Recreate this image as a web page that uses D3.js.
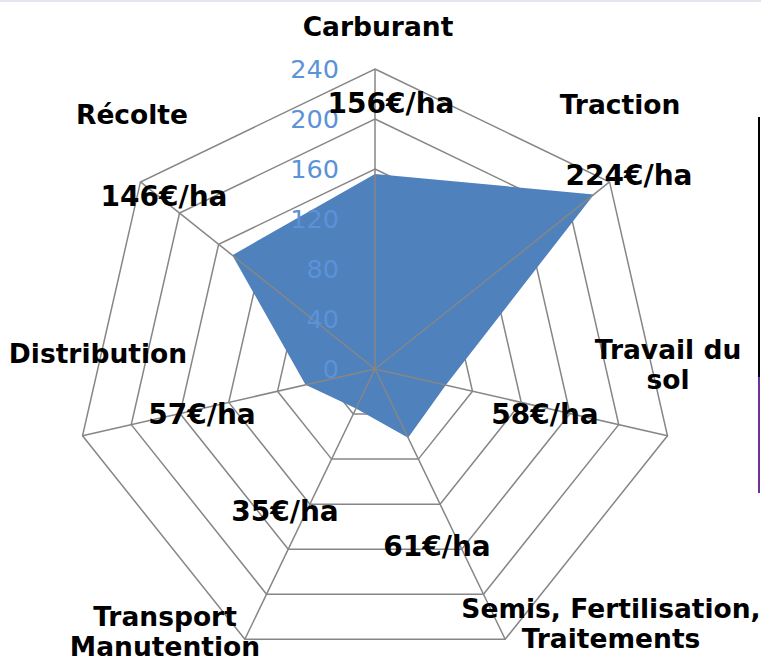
<!DOCTYPE html>
<meta charset="utf-8">
<style>
    html,
    body {
        margin: 0;
        padding: 0;
        background: #fff;
    }

    svg text {
        font-family: "DejaVu Sans", Verdana, sans-serif;
    }

    .grid polygon {
        fill: none;
        stroke: #868686;
        stroke-width: 1.5px;
    }

    .spokes line {
        stroke: #868686;
        stroke-width: 1.5px;
    }

    .cat {
        font-weight: bold;
        font-size: 26.5px;
        fill: #000;
    }

    .val {
        font-weight: bold;
        font-size: 28px;
        fill: #000;
    }

    .tick {
        font-size: 25.5px;
        fill: #5b92d8;
    }
</style>
<svg id="canvas" width="761" height="659"></svg>
<script src="https://d3js.org/d3.v7.min.js"></script>
<script>
    // categories, clockwise from the top
    var categories = ["Carburant", "Traction", "Travail du sol", "Semis, Fertilisation, Traitements",
        "Transport Manutention", "Distribution", "Récolte"];
    var labelLines = [["Carburant"], ["Traction"], ["Travail du", "sol"], ["Semis, Fertilisation,", "Traitements"],
        ["Transport", "Manutention"], ["Distribution"], ["Récolte"]];
    var costs = [156, 224, 58, 61, 35, 57, 146]; // €/ha
    var ticks = [0, 40, 80, 120, 160, 200, 240];

    // hand placed label spots (offset from centre), as in the original
    var catOffsets = [[3, -343], [245, -265], [293, -5], [236, 254], [-210, 262], [-277, -16], [-243, -255]];
    var valOffsets = [[16, -266], [254, -194], [170, 45], [62, 177], [-90, 142], [-173, 45], [-211, -173]];

    var svg = d3.select("svg"),
        cx = 375,
        cy = 369;

    var r = d3.scaleLinear().domain([0, 240]).range([0, 300]);
    var angle = d3.scaleLinear().domain([0, categories.length]).range([0, 2 * Math.PI]);

    function pt(i, v) {
        var a = angle(i);
        return [cx + r(v) * Math.sin(a), cy - r(v) * Math.cos(a)];
    }

    // thin lavender rule at the very top
    svg.append("rect").attr("x", 0).attr("y", 0).attr("width", 761).attr("height", 2).attr("fill", "#e4e4f0");

    // rings
    svg.append("g").attr("class", "grid")
        .selectAll("polygon")
        .data(ticks.slice(1))
        .enter().append("polygon")
        .attr("points", function(t) {
            return d3.range(categories.length).map(function(i) { return pt(i, t).join(","); }).join(" ");
        });

    // the series
    svg.append("polygon")
        .attr("points", costs.map(function(v, i) { return pt(i, v).join(","); }).join(" "))
        .attr("fill", "#4f81bd");

    // spokes on top of the fill
    svg.append("g").attr("class", "spokes")
        .selectAll("line")
        .data(categories)
        .enter().append("line")
        .attr("x1", cx).attr("y1", cy)
        .attr("x2", function(d, i) { return pt(i, 240)[0]; })
        .attr("y2", function(d, i) { return pt(i, 240)[1]; });

    // value axis labels
    svg.append("g")
        .selectAll("text")
        .data(ticks)
        .enter().append("text")
        .attr("class", "tick")
        .attr("x", cx - 36)
        .attr("y", function(t) { return cy - r(t); })
        .attr("dy", "0.36em")
        .attr("text-anchor", "end")
        .text(function(t) { return t; });

    // category labels
    var cat = svg.append("g")
        .selectAll("text")
        .data(labelLines)
        .enter().append("text")
        .attr("class", "cat")
        .attr("text-anchor", "middle")
        .attr("transform", function(d, i) { return "translate(" + (cx + catOffsets[i][0]) + "," + (cy + catOffsets[i][1]) + ")"; });

    cat.selectAll("tspan")
        .data(function(d) { return d; })
        .enter().append("tspan")
        .attr("x", 0)
        .attr("y", function(d, j, nodes) { return (j - (nodes.length - 1) / 2) * 30; })
        .attr("dy", "0.36em")
        .text(function(d) { return d; });

    // data labels
    svg.append("g")
        .selectAll("text")
        .data(costs)
        .enter().append("text")
        .attr("class", "val")
        .attr("text-anchor", "middle")
        .attr("x", function(d, i) { return cx + valOffsets[i][0]; })
        .attr("y", function(d, i) { return cy + valOffsets[i][1]; })
        .attr("dy", "0.36em")
        .text(function(d) { return d + "€/ha"; });

    // edge of a neighbouring frame on the right
    svg.append("line").attr("x1", 759).attr("x2", 759).attr("y1", 117).attr("y2", 377)
        .attr("stroke", "#000").attr("stroke-width", 2);
    svg.append("line").attr("x1", 759).attr("x2", 759).attr("y1", 377).attr("y2", 493)
        .attr("stroke", "#7030a0").attr("stroke-width", 2);
</script>
